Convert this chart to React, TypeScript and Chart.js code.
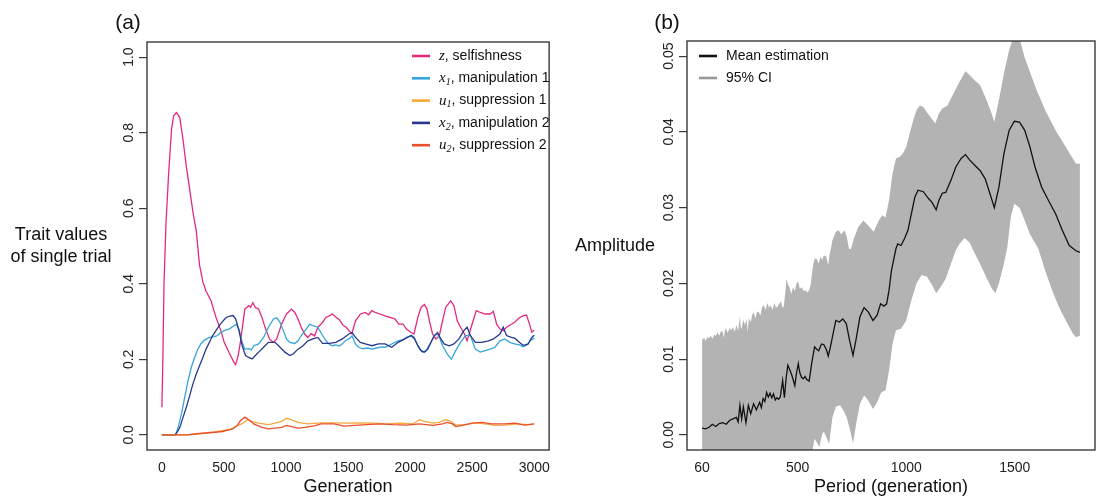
import React, { useEffect, useRef } from "react";
import { Chart, registerables } from "chart.js";

Chart.register(...registerables);

const SANS = '"Liberation Sans", Arial, Helvetica, sans-serif';
const SERIF = '"Liberation Serif", "Times New Roman", serif';
const INK = "#222222";

// ---------------- Panel (a) ----------------
const GEN_TICKS = [0, 500, 1000, 1500, 2000, 2500, 3000];
const GEN_TICK_LABELS = ["0", "500", "1000", "1500", "2000", "2500", "3000"];
const TRAIT_TICKS = [0, 0.2, 0.4, 0.6, 0.8, 1.0];
const TRAIT_TICK_LABELS = ["0.0", "0.2", "0.4", "0.6", "0.8", "1.0"];

const Z_SELFISHNESS: [number, number][] = [
  [0, 0.073], [8, 0.2], [17, 0.4], [33, 0.56], [54, 0.69], [78, 0.81], [95, 0.845], [118, 0.853],
  [144, 0.84], [171, 0.78], [197, 0.71], [224, 0.65], [250, 0.59], [277, 0.54], [303, 0.45],
  [330, 0.405], [356, 0.38], [396, 0.355], [436, 0.311], [475, 0.276], [502, 0.245], [541, 0.218],
  [581, 0.192], [594, 0.186], [615, 0.21], [634, 0.249], [652, 0.293], [668, 0.333], [700, 0.342],
  [715, 0.338], [732, 0.35], [753, 0.337], [779, 0.333], [806, 0.311], [832, 0.284], [867, 0.254],
  [898, 0.245], [925, 0.254], [964, 0.293], [1004, 0.32], [1044, 0.333], [1071, 0.324], [1097, 0.307],
  [1123, 0.284], [1150, 0.267], [1176, 0.258], [1202, 0.268], [1230, 0.262], [1256, 0.284],
  [1295, 0.298], [1321, 0.311], [1348, 0.315], [1374, 0.32], [1400, 0.312], [1430, 0.305],
  [1460, 0.29], [1485, 0.285], [1507, 0.276], [1530, 0.268], [1560, 0.302], [1599, 0.32],
  [1639, 0.324], [1665, 0.318], [1692, 0.329], [1718, 0.324], [1758, 0.32], [1798, 0.315],
  [1837, 0.311], [1877, 0.307], [1909, 0.293], [1943, 0.293], [1970, 0.28], [2009, 0.271],
  [2031, 0.267], [2062, 0.311], [2089, 0.338], [2115, 0.345], [2136, 0.333], [2155, 0.302],
  [2181, 0.267], [2208, 0.254], [2235, 0.262], [2261, 0.302], [2287, 0.338], [2327, 0.355],
  [2353, 0.342], [2380, 0.302], [2406, 0.285], [2438, 0.267], [2459, 0.249], [2499, 0.293],
  [2533, 0.329], [2565, 0.324], [2605, 0.32], [2644, 0.32], [2671, 0.327], [2697, 0.293],
  [2724, 0.28], [2750, 0.276], [2777, 0.285], [2816, 0.293], [2843, 0.298], [2880, 0.31],
  [2910, 0.315], [2938, 0.317], [2960, 0.295], [2980, 0.272], [3000, 0.277],
];

const X1_MANIPULATION: [number, number][] = [
  [0, 0], [50, 0], [110, 0], [131, 0.02], [158, 0.056], [184, 0.1], [211, 0.144], [237, 0.179],
  [264, 0.205], [290, 0.227], [316, 0.242], [343, 0.251], [383, 0.258], [422, 0.26], [449, 0.263],
  [475, 0.271], [502, 0.276], [541, 0.28], [581, 0.289], [600, 0.293], [621, 0.28], [647, 0.245],
  [668, 0.227], [700, 0.228], [720, 0.225], [740, 0.236], [780, 0.241], [819, 0.258], [859, 0.285],
  [899, 0.307], [925, 0.31], [952, 0.298], [978, 0.276], [1004, 0.254], [1031, 0.245], [1071, 0.242],
  [1097, 0.249], [1123, 0.263], [1163, 0.28], [1190, 0.293], [1216, 0.289], [1256, 0.285],
  [1295, 0.263], [1322, 0.249], [1348, 0.24], [1374, 0.236], [1401, 0.238], [1430, 0.235],
  [1454, 0.241], [1480, 0.25], [1507, 0.254], [1533, 0.262], [1560, 0.24], [1586, 0.232],
  [1620, 0.228], [1660, 0.23], [1692, 0.227], [1730, 0.23], [1770, 0.233], [1800, 0.232],
  [1824, 0.236], [1860, 0.242], [1904, 0.249], [1940, 0.252], [1970, 0.258], [2009, 0.263],
  [2030, 0.26], [2049, 0.245], [2076, 0.227], [2102, 0.219], [2128, 0.223], [2168, 0.245],
  [2195, 0.263], [2221, 0.267], [2240, 0.255], [2261, 0.236], [2300, 0.214], [2332, 0.2],
  [2367, 0.223], [2406, 0.245], [2446, 0.263], [2486, 0.263], [2505, 0.245], [2525, 0.227],
  [2565, 0.219], [2605, 0.223], [2644, 0.227], [2684, 0.232], [2724, 0.249], [2763, 0.254],
  [2803, 0.245], [2843, 0.241], [2880, 0.238], [2910, 0.233], [2940, 0.238], [2970, 0.25],
  [3000, 0.256],
];

const X2_MANIPULATION: [number, number][] = [
  [0, 0], [60, 0], [105, 0], [125, 0.008], [145, 0.02], [171, 0.047], [197, 0.073], [224, 0.104],
  [250, 0.135], [277, 0.161], [303, 0.183], [330, 0.205], [356, 0.227], [383, 0.245], [409, 0.263],
  [436, 0.276], [462, 0.289], [488, 0.3], [515, 0.31], [541, 0.314], [573, 0.316], [594, 0.307],
  [621, 0.276], [647, 0.236], [674, 0.21], [700, 0.205], [727, 0.201], [753, 0.21], [780, 0.219],
  [819, 0.232], [859, 0.245], [885, 0.245], [912, 0.245], [952, 0.232], [991, 0.219], [1031, 0.21],
  [1057, 0.214], [1097, 0.227], [1137, 0.236], [1176, 0.249], [1216, 0.254], [1256, 0.258],
  [1295, 0.242], [1348, 0.242], [1401, 0.245], [1454, 0.254], [1507, 0.267], [1533, 0.271],
  [1560, 0.258], [1599, 0.245], [1639, 0.241], [1692, 0.236], [1745, 0.241], [1798, 0.241],
  [1851, 0.232], [1904, 0.245], [1957, 0.254], [2009, 0.263], [2036, 0.254], [2062, 0.236],
  [2089, 0.223], [2115, 0.219], [2142, 0.227], [2168, 0.245], [2195, 0.263], [2221, 0.271],
  [2248, 0.254], [2274, 0.241], [2314, 0.236], [2353, 0.241], [2393, 0.254], [2433, 0.276],
  [2459, 0.285], [2486, 0.263], [2525, 0.245], [2578, 0.245], [2631, 0.249], [2671, 0.254],
  [2724, 0.267], [2750, 0.285], [2777, 0.263], [2816, 0.258], [2843, 0.256], [2880, 0.245],
  [2910, 0.237], [2950, 0.24], [2980, 0.258], [3000, 0.264],
];

const U1_SUPPRESSION: [number, number][] = [
  [0, 0], [200, 0], [280, 0.002], [356, 0.005], [420, 0.008], [488, 0.011], [568, 0.016],
  [607, 0.024], [634, 0.028], [660, 0.032], [690, 0.04], [727, 0.036], [779, 0.031], [859, 0.027],
  [912, 0.031], [965, 0.036], [1004, 0.044], [1044, 0.04], [1097, 0.033], [1176, 0.029],
  [1282, 0.032], [1388, 0.032], [1494, 0.031], [1600, 0.032], [1706, 0.031], [1811, 0.029],
  [1917, 0.031], [2023, 0.029], [2076, 0.04], [2116, 0.036], [2182, 0.031], [2235, 0.033],
  [2282, 0.04], [2314, 0.038], [2367, 0.026], [2446, 0.027], [2526, 0.032], [2605, 0.029],
  [2685, 0.025], [2764, 0.026], [2870, 0.029], [2949, 0.027], [3000, 0.029],
];

const U2_SUPPRESSION: [number, number][] = [
  [0, 0], [200, 0], [280, 0.003], [356, 0.005], [430, 0.007], [488, 0.009], [568, 0.016],
  [607, 0.025], [634, 0.038], [660, 0.045], [668, 0.047], [700, 0.04], [740, 0.029], [806, 0.02],
  [859, 0.016], [912, 0.018], [965, 0.02], [1004, 0.025], [1044, 0.022], [1097, 0.018],
  [1150, 0.02], [1229, 0.024], [1282, 0.029], [1388, 0.029], [1467, 0.023], [1547, 0.025],
  [1653, 0.027], [1758, 0.029], [1864, 0.027], [1970, 0.026], [2076, 0.029], [2182, 0.025],
  [2261, 0.029], [2301, 0.033], [2341, 0.029], [2367, 0.022], [2420, 0.025], [2499, 0.031],
  [2579, 0.033], [2658, 0.029], [2764, 0.029], [2843, 0.031], [2923, 0.026], [3000, 0.029],
];

// ---------------- Panel (b) ----------------
const PERIOD_TICKS = [60, 500, 1000, 1500];
const PERIOD_TICK_LABELS = ["60", "500", "1000", "1500"];
const AMP_TICKS = [0, 0.01, 0.02, 0.03, 0.04, 0.05];
const AMP_TICK_LABELS = ["0.00", "0.01", "0.02", "0.03", "0.04", "0.05"];

const MEAN_AMPLITUDE: [number, number][] = [
  [60, 0.00088], [76, 0.0008], [92, 0.001], [107, 0.0014], [123, 0.0011], [139, 0.0015],
  [155, 0.0016], [171, 0.0014], [186, 0.0019], [202, 0.0021], [218, 0.0023], [226, 0.0017],
  [234, 0.0039], [242, 0.0021], [250, 0.0037], [262, 0.0016], [273, 0.0039], [284, 0.0028],
  [297, 0.0041], [310, 0.0033], [325, 0.0043], [333, 0.0036], [341, 0.0048], [349, 0.0044],
  [357, 0.0056], [365, 0.005], [373, 0.0055], [381, 0.0049], [389, 0.0054], [397, 0.0046],
  [404, 0.0049], [412, 0.0047], [420, 0.005], [431, 0.0072], [439, 0.0049], [447, 0.0075],
  [455, 0.0092], [465, 0.0085], [474, 0.0078], [487, 0.0065], [495, 0.0082], [503, 0.0094],
  [510, 0.0082], [518, 0.0076], [526, 0.0074], [534, 0.0077], [542, 0.0073], [553, 0.0071],
  [565, 0.0095], [578, 0.0116], [588, 0.0113], [597, 0.0111], [610, 0.012], [621, 0.0119],
  [633, 0.0112], [641, 0.0104], [650, 0.0115], [660, 0.0129], [676, 0.0151], [692, 0.0149],
  [708, 0.0153], [724, 0.0147], [739, 0.0125], [755, 0.0105], [771, 0.0129], [787, 0.0156],
  [806, 0.0168], [826, 0.0162], [847, 0.0151], [866, 0.0158], [882, 0.0173], [897, 0.017],
  [910, 0.0173], [921, 0.0191], [932, 0.0217], [945, 0.0235], [953, 0.0246], [961, 0.0252],
  [976, 0.025], [992, 0.0259], [1008, 0.027], [1024, 0.0292], [1040, 0.0314], [1055, 0.0323],
  [1079, 0.0321], [1103, 0.0312], [1119, 0.0307], [1138, 0.0297], [1150, 0.0309], [1166, 0.0319],
  [1182, 0.032], [1206, 0.0336], [1229, 0.0354], [1253, 0.0365], [1273, 0.037], [1292, 0.0363],
  [1316, 0.0356], [1340, 0.0349], [1364, 0.0338], [1384, 0.032], [1406, 0.03], [1427, 0.0327],
  [1450, 0.0371], [1474, 0.0402], [1498, 0.0414], [1522, 0.0413], [1546, 0.0402], [1570, 0.038],
  [1593, 0.0354], [1624, 0.0327], [1656, 0.0309], [1688, 0.0292], [1719, 0.027], [1751, 0.025],
  [1782, 0.0243], [1800, 0.0241],
];

const CI_UPPER: [number, number][] = [
  [60, 0.0126], [70, 0.0128], [76, 0.0124], [84, 0.0129], [92, 0.0128], [100, 0.0131],
  [108, 0.0127], [115, 0.0132], [123, 0.0131], [131, 0.0135], [139, 0.0131], [147, 0.0137],
  [155, 0.0136], [160, 0.0128], [165, 0.0138], [171, 0.014], [178, 0.0134], [186, 0.0141],
  [194, 0.0138], [202, 0.0142], [210, 0.0136], [218, 0.0145], [226, 0.0137], [234, 0.0156],
  [238, 0.0142], [242, 0.014], [250, 0.0152], [258, 0.0145], [265, 0.0153], [270, 0.0135],
  [275, 0.0154], [284, 0.0149], [290, 0.0158], [297, 0.0162], [305, 0.0154], [313, 0.0163],
  [321, 0.0162], [329, 0.0158], [336, 0.0168], [344, 0.0171], [352, 0.0165], [360, 0.0174],
  [368, 0.0168], [376, 0.0171], [384, 0.0165], [392, 0.0174], [400, 0.0168], [407, 0.0169],
  [415, 0.0173], [423, 0.0176], [430, 0.0168], [436, 0.0169], [442, 0.0185], [449, 0.0206],
  [456, 0.0198], [463, 0.0195], [470, 0.0186], [479, 0.0195], [487, 0.019], [495, 0.02],
  [503, 0.0202], [510, 0.0193], [518, 0.0195], [528, 0.019], [537, 0.0191], [545, 0.0188],
  [553, 0.0191], [560, 0.0198], [566, 0.0213], [572, 0.0225], [578, 0.0233], [589, 0.0232],
  [597, 0.0226], [605, 0.0235], [613, 0.0231], [621, 0.0237], [632, 0.0235], [641, 0.0224],
  [647, 0.0238], [652, 0.0244], [660, 0.0257], [676, 0.0268], [689, 0.027], [700, 0.0265],
  [716, 0.027], [726, 0.0262], [736, 0.0246], [745, 0.0245], [760, 0.026], [779, 0.0274],
  [803, 0.0283], [826, 0.0276], [850, 0.0268], [874, 0.0283], [890, 0.029], [905, 0.0287],
  [921, 0.031], [937, 0.0345], [953, 0.0365], [969, 0.0367], [984, 0.0371], [1000, 0.038],
  [1016, 0.0398], [1032, 0.0415], [1048, 0.0429], [1063, 0.0435], [1079, 0.0433], [1095, 0.0426],
  [1116, 0.0418], [1134, 0.0411], [1150, 0.0424], [1166, 0.0431], [1190, 0.0435], [1213, 0.0448],
  [1245, 0.0466], [1273, 0.048], [1292, 0.0475], [1316, 0.0468], [1340, 0.0462], [1364, 0.0446],
  [1388, 0.0429], [1406, 0.0413], [1427, 0.0442], [1450, 0.0477], [1474, 0.0508], [1498, 0.0528],
  [1514, 0.0532], [1530, 0.0515], [1546, 0.0498], [1570, 0.0479], [1601, 0.0455], [1640, 0.0429],
  [1688, 0.0402], [1735, 0.038], [1782, 0.0358], [1800, 0.0358],
];

const CI_LOWER: [number, number][] = [
  [60, -0.0108], [100, -0.0105], [200, -0.0095], [300, -0.008], [400, -0.0065], [500, -0.004],
  [540, -0.003], [565, -0.0022], [570, -0.0018], [578, -0.0005], [589, -0.001], [600, -0.0016],
  [613, 0.0001], [621, 0.0004], [632, -0.0003], [645, -0.0012], [660, 0.0023], [676, 0.0037],
  [695, 0.0039], [711, 0.0032], [726, 0.0023], [742, 0.0006], [755, -0.0011], [771, 0.0017],
  [787, 0.0041], [806, 0.0052], [826, 0.0045], [847, 0.0034], [866, 0.0043], [885, 0.0056],
  [905, 0.0059], [921, 0.0085], [937, 0.012], [953, 0.0138], [976, 0.014], [1000, 0.0151],
  [1024, 0.0178], [1048, 0.02], [1071, 0.0211], [1095, 0.0209], [1119, 0.0198], [1138, 0.0187],
  [1158, 0.0195], [1182, 0.0206], [1206, 0.0226], [1229, 0.0244], [1245, 0.0252], [1269, 0.026],
  [1292, 0.0254], [1308, 0.0244], [1340, 0.0226], [1372, 0.0206], [1395, 0.0193], [1411, 0.0187],
  [1427, 0.02], [1450, 0.0226], [1466, 0.0248], [1482, 0.0288], [1498, 0.0305], [1522, 0.03],
  [1546, 0.0283], [1570, 0.0265], [1608, 0.0246], [1640, 0.0217], [1672, 0.0191], [1703, 0.0169],
  [1735, 0.0151], [1767, 0.0134], [1782, 0.0129], [1800, 0.0131],
];

// ---------------- helpers ----------------
type Part = { t: string; k: "var" | "sub" | "txt" };
type LegendEntry = { color: string; parts: Part[] };

const toXY = (arr: [number, number][]) => arr.map(([x, y]) => ({ x, y }));

const framePlugin = {
  id: "frame",
  afterDraw(chart: any) {
    const { ctx, chartArea: a } = chart;
    ctx.save();
    ctx.strokeStyle = "#3a3a3a";
    ctx.lineWidth = 1.4;
    ctx.strokeRect(a.left, a.top, a.right - a.left, a.bottom - a.top);
    ctx.restore();
  },
};

function yLabelsPlugin(ticks: number[], labels: string[], offset: number) {
  return {
    id: "ylabels",
    afterDraw(chart: any) {
      const { ctx, chartArea, scales } = chart;
      ctx.save();
      ctx.font = `14px ${SANS}`;
      ctx.fillStyle = INK;
      ctx.textAlign = "center";
      ctx.textBaseline = "middle";
      ticks.forEach((v, i) => {
        const y = scales.y.getPixelForValue(v);
        ctx.save();
        ctx.translate(chartArea.left - offset, y);
        ctx.rotate(-Math.PI / 2);
        ctx.fillText(labels[i], 0, 0);
        ctx.restore();
      });
      ctx.restore();
    },
  };
}

function textPlugin(items: { text: string; x: number; y: number; size: number }[]) {
  return {
    id: "texts",
    afterDraw(chart: any) {
      const { ctx } = chart;
      ctx.save();
      ctx.fillStyle = "#111";
      ctx.textAlign = "center";
      ctx.textBaseline = "middle";
      items.forEach((it) => {
        ctx.font = `${it.size}px ${SANS}`;
        ctx.fillText(it.text, it.x, it.y);
      });
      ctx.restore();
    },
  };
}

function legendPlugin(entries: LegendEntry[], x0: number, y0: number, dy: number, lw: number) {
  return {
    id: "customLegend",
    afterDraw(chart: any) {
      const { ctx } = chart;
      ctx.save();
      entries.forEach((e, i) => {
        const y = y0 + i * dy;
        ctx.strokeStyle = e.color;
        ctx.lineWidth = lw;
        ctx.beginPath();
        ctx.moveTo(x0, y);
        ctx.lineTo(x0 + 18, y);
        ctx.stroke();
        let x = x0 + 27;
        ctx.fillStyle = "#111";
        ctx.textAlign = "left";
        ctx.textBaseline = "middle";
        e.parts.forEach((p) => {
          let yy = y;
          if (p.k === "var") ctx.font = `italic 15px ${SERIF}`;
          else if (p.k === "sub") {
            ctx.font = `italic 10px ${SERIF}`;
            yy = y + 4;
          } else ctx.font = `14px ${SANS}`;
          ctx.fillText(p.t, x, yy);
          x += ctx.measureText(p.t).width;
        });
      });
      ctx.restore();
    },
  };
}

function lineDs(label: string, data: [number, number][], color: string) {
  return {
    label,
    data: toXY(data),
    borderColor: color,
    backgroundColor: color,
    borderWidth: 1.3,
    pointRadius: 0,
    tension: 0,
    fill: false,
  };
}

const COLORS = {
  z: "#E3287E",
  x1: "#35A5DC",
  u1: "#F6A83C",
  x2: "#29378C",
  u2: "#E8512C",
};

export default function App() {
  const refA = useRef<HTMLCanvasElement | null>(null);
  const refB = useRef<HTMLCanvasElement | null>(null);

  useEffect(() => {
    const legendA: LegendEntry[] = [
      { color: COLORS.z, parts: [{ t: "z", k: "var" }, { t: ", selfishness", k: "txt" }] },
      { color: COLORS.x1, parts: [{ t: "x", k: "var" }, { t: "1", k: "sub" }, { t: ", manipulation 1", k: "txt" }] },
      { color: COLORS.u1, parts: [{ t: "u", k: "var" }, { t: "1", k: "sub" }, { t: ", suppression 1", k: "txt" }] },
      { color: COLORS.x2, parts: [{ t: "x", k: "var" }, { t: "2", k: "sub" }, { t: ", manipulation 2", k: "txt" }] },
      { color: COLORS.u2, parts: [{ t: "u", k: "var" }, { t: "2", k: "sub" }, { t: ", suppression 2", k: "txt" }] },
    ];

    const chartA = new Chart(refA.current as HTMLCanvasElement, {
      type: "line",
      data: {
        datasets: [
          lineDs("u2, suppression 2", U2_SUPPRESSION, COLORS.u2),
          lineDs("u1, suppression 1", U1_SUPPRESSION, COLORS.u1),
          lineDs("x2, manipulation 2", X2_MANIPULATION, COLORS.x2),
          lineDs("x1, manipulation 1", X1_MANIPULATION, COLORS.x1),
          lineDs("z, selfishness", Z_SELFISHNESS, COLORS.z),
        ],
      },
      options: {
        responsive: false,
        animation: false,
        events: [],
        layout: { padding: { left: 0, right: 5, top: 42, bottom: 0 } },
        plugins: { legend: { display: false }, tooltip: { enabled: false } },
        scales: {
          x: {
            type: "linear",
            min: -120,
            max: 3120,
            afterFit(s: any) { s.height = 47; },
            afterBuildTicks(s: any) { s.ticks = GEN_TICKS.map((v) => ({ value: v })); },
            grid: { display: false, drawTicks: false },
            border: { display: false },
            ticks: {
              autoSkip: false,
              maxRotation: 0,
              minRotation: 0,
              padding: 10,
              color: INK,
              font: { family: SANS, size: 14 },
              callback: (_v: any, i: number) => GEN_TICK_LABELS[i],
            },
            title: {
              display: true,
              text: "Generation",
              color: "#111",
              padding: 0,
              font: { family: SANS, size: 18, lineHeight: 1.1 },
            },
          },
          y: {
            type: "linear",
            min: -0.04,
            max: 1.04,
            afterFit(s: any) { s.width = 147; },
            afterBuildTicks(s: any) { s.ticks = TRAIT_TICKS.map((v) => ({ value: v })); },
            grid: { drawOnChartArea: false, drawTicks: true, tickLength: 8, color: "#3a3a3a", lineWidth: 1.2 },
            border: { display: false },
            ticks: { display: false },
          },
        },
      } as any,
      plugins: [
        framePlugin,
        yLabelsPlugin(TRAIT_TICKS, TRAIT_TICK_LABELS, 18),
        textPlugin([
          { text: "(a)", x: 128, y: 23, size: 21 },
          { text: "Trait values", x: 61, y: 235, size: 18 },
          { text: "of single trial", x: 61, y: 257, size: 18 },
        ]),
        legendPlugin(legendA, 412, 56, 22.3, 2.6),
      ] as any,
    });

    const legendB: LegendEntry[] = [
      { color: "#111111", parts: [{ t: "Mean estimation", k: "txt" }] },
      { color: "#999999", parts: [{ t: "95% CI", k: "txt" }] },
    ];

    const chartB = new Chart(refB.current as HTMLCanvasElement, {
      type: "line",
      data: {
        datasets: [
          {
            label: "Mean estimation",
            data: toXY(MEAN_AMPLITUDE),
            borderColor: "#111111",
            borderWidth: 1.3,
            pointRadius: 0,
            tension: 0,
            fill: false,
          },
          {
            label: "95% CI upper",
            data: toXY(CI_UPPER),
            borderColor: "rgba(0,0,0,0)",
            backgroundColor: "#B3B3B3",
            borderWidth: 0,
            pointRadius: 0,
            tension: 0,
            fill: "+1",
          },
          {
            label: "95% CI lower",
            data: toXY(CI_LOWER),
            borderColor: "rgba(0,0,0,0)",
            backgroundColor: "#B3B3B3",
            borderWidth: 0,
            pointRadius: 0,
            tension: 0,
            fill: false,
          },
        ],
      },
      options: {
        responsive: false,
        animation: false,
        events: [],
        layout: { padding: { left: 0, right: 6, top: 41, bottom: 0 } },
        plugins: { legend: { display: false }, tooltip: { enabled: false } },
        scales: {
          x: {
            type: "linear",
            min: -9.6,
            max: 1869.6,
            afterFit(s: any) { s.height = 47; },
            afterBuildTicks(s: any) { s.ticks = PERIOD_TICKS.map((v) => ({ value: v })); },
            grid: { display: false, drawTicks: false },
            border: { display: false },
            ticks: {
              autoSkip: false,
              maxRotation: 0,
              minRotation: 0,
              padding: 10,
              color: INK,
              font: { family: SANS, size: 14 },
              callback: (_v: any, i: number) => PERIOD_TICK_LABELS[i],
            },
            title: {
              display: true,
              text: "Period (generation)",
              color: "#111",
              padding: 0,
              font: { family: SANS, size: 18, lineHeight: 1.1 },
            },
          },
          y: {
            type: "linear",
            min: -0.002,
            max: 0.052,
            afterFit(s: any) { s.width = 127; },
            afterBuildTicks(s: any) { s.ticks = AMP_TICKS.map((v) => ({ value: v })); },
            grid: { drawOnChartArea: false, drawTicks: true, tickLength: 8, color: "#3a3a3a", lineWidth: 1.2 },
            border: { display: false },
            ticks: { display: false },
          },
        },
      } as any,
      plugins: [
        framePlugin,
        yLabelsPlugin(AMP_TICKS, AMP_TICK_LABELS, 18),
        textPlugin([
          { text: "(b)", x: 107, y: 23, size: 21 },
          { text: "Amplitude", x: 55, y: 246, size: 18 },
        ]),
        legendPlugin(legendB, 139, 56, 22, 2.6),
      ] as any,
    });

    return () => {
      chartA.destroy();
      chartB.destroy();
    };
  }, []);

  return (
    <div
      style={{
        position: "fixed",
        left: 0,
        top: 0,
        width: 1101,
        height: 497,
        background: "#ffffff",
        overflow: "hidden",
      }}
    >
      <canvas ref={refA} width={560} height={497} style={{ position: "absolute", left: 0, top: 0 }} />
      <canvas ref={refB} width={541} height={497} style={{ position: "absolute", left: 560, top: 0 }} />
    </div>
  );
}
